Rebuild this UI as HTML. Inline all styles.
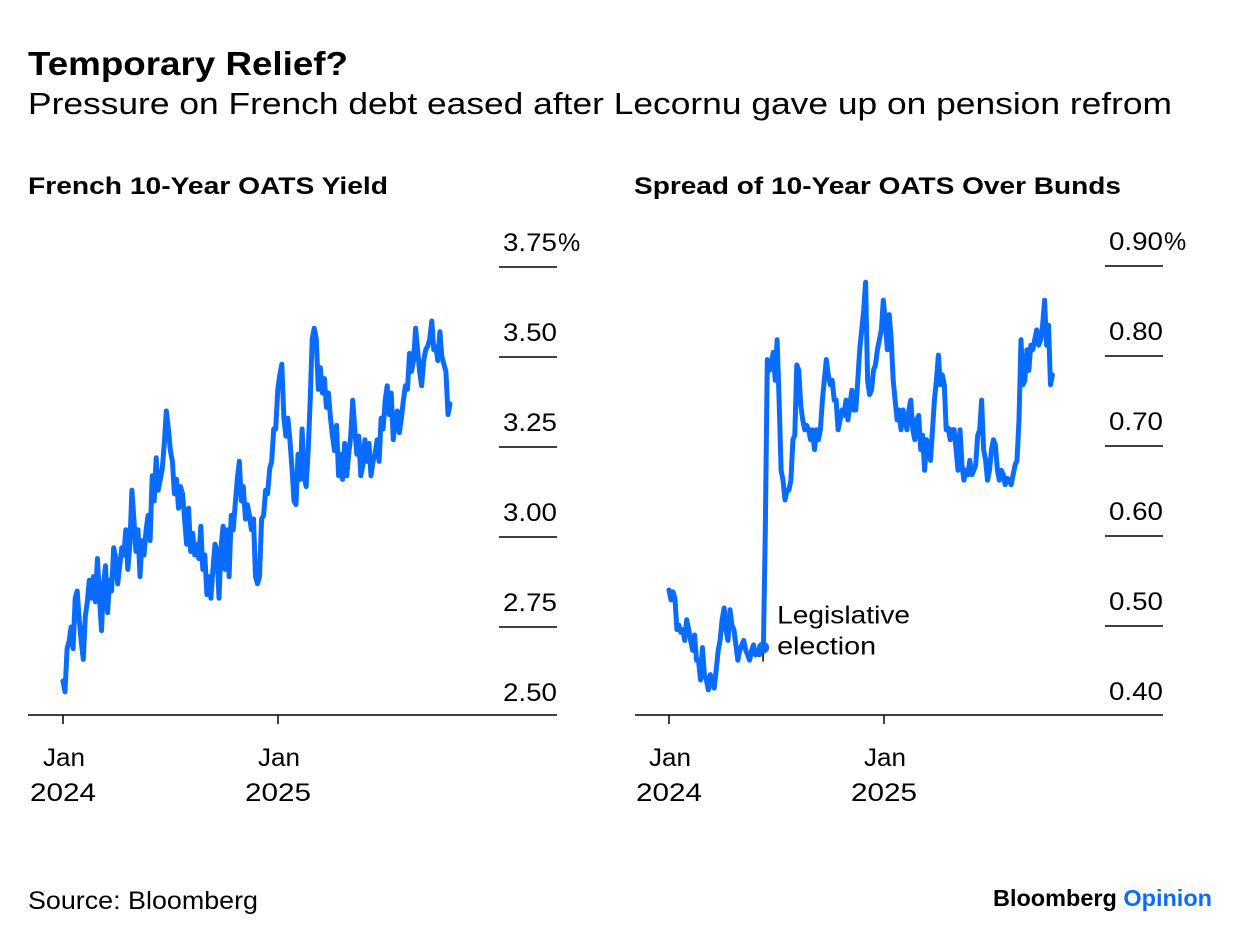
<!DOCTYPE html>
<html><head><meta charset="utf-8"><style>
body{margin:0;background:#fff;font-family:"Liberation Sans",Arial,sans-serif;}
svg text{font-family:"Liberation Sans",Arial,sans-serif;}
</style></head><body>
<svg id="c" width="1240" height="942" xmlns="http://www.w3.org/2000/svg">
<text x="28" y="75" font-size="33" font-weight="bold" fill="#000" textLength="320" lengthAdjust="spacingAndGlyphs">Temporary Relief?</text>
<text x="28" y="114" font-size="31" fill="#000" textLength="1144" lengthAdjust="spacingAndGlyphs">Pressure on French debt eased after Lecornu gave up on pension refrom</text>
<text x="28" y="194" font-size="24" font-weight="bold" textLength="360" lengthAdjust="spacingAndGlyphs">French 10-Year OATS Yield</text>
<text x="634" y="194" font-size="24" font-weight="bold" textLength="487" lengthAdjust="spacingAndGlyphs">Spread of 10-Year OATS Over Bunds</text>
<text x="28" y="909" font-size="25" textLength="230" lengthAdjust="spacingAndGlyphs">Source: Bloomberg</text>
<text x="993" y="906" font-size="23" font-weight="bold" textLength="219" lengthAdjust="spacingAndGlyphs">Bloomberg <tspan fill="#0a6cff">Opinion</tspan></text>
<g id="left"></g>
<g id="right"></g>
</svg>
<script>
const xTickLabels=[["Jan","2024"],["Jan","2025"]];
const xTickMonths=[0,12];
const leftTicks=[2.50,2.75,3.00,3.25,3.50,3.75];
const leftTickLabels=["2.50","2.75","3.00","3.25","3.50","3.75%"];
const rightTicks=[0.40,0.50,0.60,0.70,0.80,0.90];
const rightTickLabels=["0.40","0.50","0.60","0.70","0.80","0.90%"];
const leftStartMonth=0, leftEndMonth=21.6;
const rightStartMonth=0, rightEndMonth=21.4;
const leftValues=[2.60,2.57,2.69,2.71,2.75,2.69,2.83,2.85,2.77,2.71,2.66,2.78,2.82,2.88,2.83,2.89,2.82,2.94,2.83,2.74,2.87,2.92,2.79,2.88,2.85,2.97,2.94,2.87,2.92,2.97,2.95,3.02,2.91,2.98,3.13,3.05,2.96,3.02,2.89,2.99,2.95,3.02,3.06,2.99,3.17,3.10,3.22,3.13,3.16,3.19,3.26,3.35,3.30,3.24,3.21,3.12,3.16,3.08,3.14,3.12,3.05,2.98,3.08,2.96,3.01,2.95,2.98,2.94,3.03,2.91,2.95,2.84,2.89,2.83,2.91,2.98,2.96,2.83,2.97,3.03,2.91,3.02,2.89,3.06,3.02,3.09,3.16,3.21,3.10,3.14,3.05,3.09,3.06,3.02,3.05,2.89,2.87,2.89,3.05,3.06,3.13,3.12,3.19,3.21,3.30,3.30,3.41,3.45,3.48,3.33,3.28,3.33,3.27,3.19,3.10,3.09,3.23,3.16,3.30,3.17,3.14,3.24,3.38,3.55,3.58,3.55,3.41,3.47,3.40,3.44,3.36,3.40,3.33,3.28,3.24,3.31,3.17,3.23,3.16,3.26,3.17,3.23,3.28,3.38,3.30,3.23,3.28,3.17,3.20,3.27,3.21,3.26,3.17,3.21,3.23,3.27,3.21,3.33,3.30,3.38,3.42,3.34,3.40,3.27,3.33,3.35,3.29,3.33,3.38,3.42,3.41,3.51,3.46,3.49,3.58,3.52,3.46,3.42,3.49,3.52,3.53,3.55,3.60,3.52,3.53,3.49,3.57,3.50,3.48,3.46,3.34,3.37];
const rightValues=[.540,.529,.538,.531,.496,.501,.493,.496,.484,.507,.496,.484,.473,.490,.462,.462,.440,.476,.446,.440,.429,.446,.434,.431,.451,.473,.484,.507,.520,.496,.484,.518,.501,.496,.479,.462,.473,.479,.484,.473,.468,.462,.473,.479,.468,.473,.468,.476,.476,.607,.796,.784,.790,.804,.773,.818,.751,.673,.662,.640,.651,.651,.662,.707,.712,.790,.784,.746,.729,.718,.723,.718,.707,.718,.696,.718,.707,.718,.751,.773,.796,.779,.768,.773,.751,.751,.718,.729,.740,.734,.751,.729,.746,.762,.740,.740,.773,.807,.829,.851,.882,.773,.757,.762,.784,.790,.807,.818,.829,.862,.840,.807,.846,.818,.773,.751,.729,.740,.718,.740,.729,.718,.740,.751,.718,.707,.729,.734,.696,.712,.673,.707,.696,.684,.718,.751,.773,.801,.768,.779,.768,.718,.720,.707,.718,.718,.696,.673,.718,.679,.662,.673,.668,.684,.668,.673,.679,.712,.718,.751,.696,.684,.662,.673,.696,.707,.701,.673,.662,.673,.668,.657,.664,.662,.657,.668,.679,.684,.729,.818,.768,.773,.807,.784,.812,.807,.818,.829,.812,.818,.834,.862,.812,.834,.768,.779];
const electionMonth=5.25, electionValue=0.476;

const NS="http://www.w3.org/2000/svg";
function mk(parent,tag,attrs){const e=document.createElementNS(NS,tag);for(const k in attrs)e.setAttribute(k,attrs[k]);parent.appendChild(e);return e;}

function panel(g,cfg){
  const xs=m=>cfg.x0+m*(215/12);
  const ys=v=>cfg.yBase-(v-cfg.vMin)/(cfg.vStep)*90;
  const ax=mk(g,"line",{x1:cfg.axL,x2:cfg.axR,y1:715,y2:715,stroke:"#000","stroke-width":1.5});
  
  
  cfg.ticks.forEach((t,i)=>{
    const y=ys(t);
    if(i>0){
      const l=mk(g,"line",{x1:cfg.axR-58,x2:cfg.axR,y1:y,y2:y,stroke:"#000","stroke-width":1.5});
      
      
    }
    const num=cfg.labels[i].replace('%','');
    const tx=mk(g,"text",{x:cfg.axR-54,y:y-16,"font-size":25,textLength:54,lengthAdjust:"spacingAndGlyphs"});
    tx.textContent=num;
    
    
    if(cfg.labels[i].includes('%')){
      const pc=mk(g,"text",{x:cfg.axR+1,y:y-16,"font-size":25});
      pc.textContent='%';
      
      
    }
  });
  xTickMonths.forEach((m,i)=>{
    const x=xs(m);
    const l=mk(g,"line",{x1:x,x2:x,y1:715,y2:724,stroke:"#000","stroke-width":1.5});
    
    
    const t1=mk(g,"text",{x:x-20,y:766,"font-size":25,textLength:42,lengthAdjust:"spacingAndGlyphs"});
    t1.textContent=xTickLabels[i][0];
    
    
    const t2=mk(g,"text",{x:x-33,y:801,"font-size":25,textLength:66,lengthAdjust:"spacingAndGlyphs"});
    t2.textContent=xTickLabels[i][1];
    
    
  });
  const n=cfg.values.length;
  const pts=cfg.values.map((v,i)=>{const m=cfg.m0+(cfg.m1-cfg.m0)*i/(n-1);return xs(m).toFixed(1)+","+ys(v).toFixed(1);});
  const p=mk(g,"polyline",{points:pts.join(" "),fill:"none",stroke:"#0a6cff","stroke-width":5,"stroke-linejoin":"round","stroke-linecap":"round"});
  
  
  return {xs,ys};
}
const L=panel(document.getElementById('left'),{x0:63,axL:28,axR:557,yBase:717,vMin:2.5,vStep:0.25,ticks:leftTicks,labels:leftTickLabels,values:leftValues,m0:leftStartMonth,m1:leftEndMonth,lineName:'yield-line'});
const rg=document.getElementById('right');
const R=panel(rg,{x0:669,axL:635,axR:1163,yBase:716,vMin:0.4,vStep:0.1,ticks:rightTicks,labels:rightTickLabels,values:rightValues,m0:rightStartMonth,m1:rightEndMonth,lineName:'spread-line'});
const ex=R.xs(electionMonth), ey=R.ys(electionValue);
const tk=mk(rg,"line",{x1:ex,x2:ex,y1:ey,y2:ey+14,stroke:"#000","stroke-width":1.5});


const dot=mk(rg,"circle",{cx:ex,cy:ey,r:6,fill:"#0a6cff"});


const a1=mk(rg,"text",{x:ex+14,y:ey-24,"font-size":25,textLength:133,lengthAdjust:"spacingAndGlyphs"});
a1.textContent="Legislative";


const a2=mk(rg,"text",{x:ex+14,y:ey+7,"font-size":25,textLength:99,lengthAdjust:"spacingAndGlyphs"});
a2.textContent="election";


</script>
</body></html>
